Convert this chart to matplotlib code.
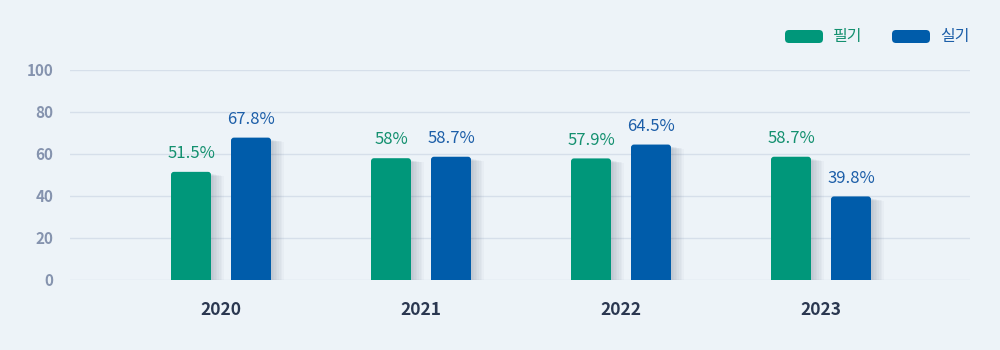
import matplotlib.pyplot as plt
from matplotlib.patches import FancyBboxPatch, Rectangle
import numpy as np

plt.rcParams['font.family'] = ['Noto Sans CJK KR', 'DejaVu Sans']

# 연도별 합격률 (필기 / 실기)
years = ['2020', '2021', '2022', '2023']
written = [51.5, 58.0, 57.9, 58.7]
practical = [67.8, 58.7, 64.5, 39.8]
written_labels = ['51.5%', '58%', '57.9%', '58.7%']
practical_labels = ['67.8%', '58.7%', '64.5%', '39.8%']
series_names = ['필기', '실기']
yticks = [0, 20, 40, 60, 80, 100]

bg = '#edf3f8'
green = '#00977a'
blue = '#005caa'
green_txt = '#13906f'
blue_txt = '#1c5ea8'

fig = plt.figure(figsize=(10, 3.5), dpi=100)
fig.patch.set_facecolor(bg)
ax = fig.add_axes([0.07, 0.2, 0.9, 0.6])
ax.set_facecolor(bg)
ax.set_xlim(-0.755, 3.745)
ax.set_ylim(0, 100)

for s in ax.spines.values():
    s.set_visible(False)
ax.set_yticks(yticks)
ax.set_yticklabels([str(t) for t in yticks], fontsize=11, fontweight='bold', color='#8593ae')
ax.tick_params(axis='y', length=0, pad=12)
ax.set_xticks([])
ax.grid(axis='y', color='#d6dfea', lw=1)
ax.set_axisbelow(True)

# px -> data units
px_x = 1 / 200.0
px_y = 1 / 2.1
bw = 40 * px_x
r = 3 * px_x
aspect = px_y / px_x


def draw_bar(xc, h, color):
    x0 = xc - bw / 2
    # soft shadow to the right
    for k in range(8):
        off = (k + 1) * 1.6
        ax.add_patch(Rectangle((x0 + off * px_x, 0), bw, h - 2 * px_y - k * 0.3 * px_y,
                               facecolor='#4a5a70', alpha=0.035, lw=0, zorder=2))
    ax.add_patch(FancyBboxPatch((x0, 0), bw, h, boxstyle=f'round,pad=0,rounding_size={r}',
                                mutation_aspect=aspect, facecolor=color, lw=0, zorder=3))
    ax.add_patch(Rectangle((x0, 0), bw, h - 4 * px_y, facecolor=color, lw=0, zorder=3))


x = np.arange(len(years))
for i in range(len(years)):
    xg = x[i] - 0.15
    xb = x[i] + 0.15
    draw_bar(xg, written[i], green)
    draw_bar(xb, practical[i], blue)
    ax.annotate(written_labels[i], (xg, written[i]), xytext=(0, 7), textcoords='offset points',
                ha='center', va='bottom', fontsize=12, color=green_txt)
    ax.annotate(practical_labels[i], (xb, practical[i]), xytext=(0, 7), textcoords='offset points',
                ha='center', va='bottom', fontsize=12, color=blue_txt)
    ax.annotate(years[i], (x[i], 0), xytext=(0, -15), textcoords='offset points',
                ha='center', va='top', fontsize=12.5, fontweight='bold', color='#2a3750')

# 범례
for (lx, tx, c, tc, name) in [(785, 833, green, green_txt, series_names[0]),
                              (892, 940, blue, blue_txt, series_names[1])]:
    fig.patches.append(FancyBboxPatch((lx / 1000, (350 - 43) / 350), 38 / 1000, 13 / 350,
                                      boxstyle='round,pad=0,rounding_size=0.004',
                                      mutation_aspect=1000 / 350, facecolor=c, lw=0,
                                      transform=fig.transFigure))
    fig.text(tx / 1000, (350 - 36.5) / 350, name, fontsize=11.5, color=tc,
             ha='left', va='center', fontweight='medium')

fig.savefig('out.png', dpi=100, facecolor=bg)
